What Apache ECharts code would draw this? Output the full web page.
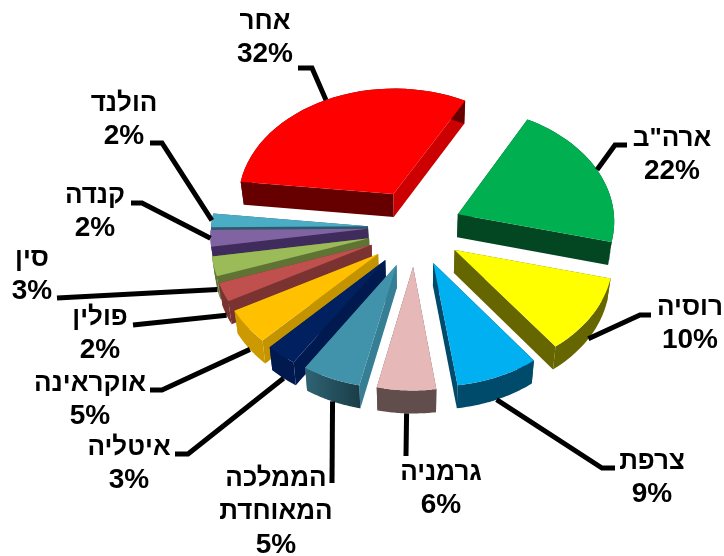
<!DOCTYPE html>
<html>
<head>
<meta charset="utf-8">
<script src="https://cdn.jsdelivr.net/npm/echarts@6/dist/echarts.min.js"></script>
<style>
  html, body { margin: 0; background: #fff; }
  #chart { width: 724px; height: 556px; }
</style>
</head>
<body>
<div id="chart"></div>
<script>
// clockwise from the USA slice
const countries = ['ארה"ב', 'רוסיה', 'צרפת', 'גרמניה', 'הממלכה\nהמאוחדת', 'איטליה', 'אוקראינה', 'פולין', 'סין', 'קנדה', 'הולנד', 'אחר']
const shares = [22, 10, 9, 6, 5, 3, 5, 2, 3, 2, 2, 32]
// sweep of each slice as it looks in the picture, degrees (the labels are rounded and the view is skewed)
const sweeps = [75.5, 39, 29, 20.5, 20.5, 11, 17.5, 9.5, 10, 8.5, 7, 112]

// styles
const topColors = ['#00b050', '#ffff00', '#00b0f0', '#e6b9b8', '#4093ab', '#002060', '#ffc000', '#c0504d', '#9bbb59', '#8064a2', '#4bacc6', '#ff0000']
const rimColors = ['#034722', '#666600', '#004a6b', '#614e4c', ['#2f6474', '#1a3c48'], '#001a50', '#cc9a00', '#7b3331', '#5e7334', '#3f2c5c', '#2b5a6c', '#660000']
const cutFromColors = ['#034722', '#666600', '#004a6b', '#614e4c', '#357e93', '#001a50', '#c49300', '#7b3331', '#5e7334', '#3f2c5c', '#2b5a6c', '#660000']
const cutToColors = ['#034722', '#666600', '#004a6b', '#614e4c', '#357e93', '#001a50', '#c49300', '#7b3331', '#5e7334', '#3f2c5c', '#2b5a6c', '#cc0000']

// layout
const explode = [0.3, 0.3, 0.3, 0.3, 0.3, 0.3, 0.3, 0.3, 0.3, 0.3, 0.3, 0.33]
const sliceNudges = [[0, -3], [0, 0], [0, 0], [0, 1], [0, 2], [0, 2], [1, 2], [0, 0], [0, -1], [0, -5], [0, -3], [2, -4]]
const labelCentres = [[672, 155], [690, 324], [652, 478], [441, 489], [276, 512], [129, 464], [90, 400], [100, 334], [32, 275], [95, 212], [124, 120], [265, 38]]
const leaderBends = [
  [[615, 145], [627, 145]],
  [[640, 315], [651, 315]],
  [[602, 468], [615, 468]],
  [[406, 456]],
  [[332, 483]],
  [[188, 454], [175, 454]],
  [[162, 390], [150, 390]],
  [[133, 325]],
  [[57, 298]],
  [[142, 203], [131, 203]],
  [[162, 143], [150, 143]],
  [[312, 68], [298, 68]]
]
const leaderOnRim = [0, 1, 1, 1, 1, 1, 1, 1, 1, 0, 0, 0]

const startDeg = 28.5
const centreX = 415
const centreY = 231
const scaleX = 157
const scaleY = 114
const perspective = 0.05
const depth = 23
const floorShrink = 0.982

const toRad = d => d * Math.PI / 180

const sliceAngles = sweeps.map((s, i) => {
  const from = startDeg + sweeps.slice(0, i).reduce((a, b) => a + b, 0)
  return {from, to: from + s, mid: from + s / 2}
})

const project = (i, deg, r) => {
  const mid = toRad(sliceAngles[i].mid)
  const e = explode[i]
  const u = e * Math.sin(mid) + r * Math.sin(toRad(deg))
  const v = -e * Math.cos(mid) - r * Math.cos(toRad(deg))
  const w = 1 - perspective * v
  return [centreX + sliceNudges[i][0] + scaleX * u / w, centreY + sliceNudges[i][1] + scaleY * v / w]
}

// the underside sits a bit further from the viewer, so it narrows towards the centre
const drop = ([x, y]) => [centreX + (x - centreX) * floorShrink, y + depth]

const arcPoints = i => {
  const {from, to} = sliceAngles[i]
  const pts = []
  for (let k = 0; k <= 32; k++) pts.push(project(i, from + (to - from) * k / 32, 1))
  return pts
}

const toFill = c => Array.isArray(c)
  ? new echarts.graphic.LinearGradient(0, 0, 1, 0, [{offset: 0, color: c[0]}, {offset: 1, color: c[1]}])
  : c

const labelText = (name, value) => {
  const nameLines = name.split('\n').map(line => `{name|${line}}`)
  return [...nameLines, `{pct|${value}%}`].join('\n')
}

const renderSlice = (params, api) => {
  const i = params.dataIndex
  const {mid} = sliceAngles[i]
  const apex = project(i, 0, 0)
  const arc = arcPoints(i)
  const first = arc[0]
  const last = arc[arc.length - 1]
  // slices nearer the viewer paint later
  const order = Math.round((1 - Math.cos(toRad(mid))) * 100) * 10

  const poly = (points, fill, z) => ({
    type: 'polygon',
    z2: order + z,
    shape: {points},
    style: {fill: toFill(fill)}
  })

  const anchor = project(i, mid, 1)
  const start = leaderOnRim[i] ? drop(anchor) : anchor
  const leaderPts = [start, ...leaderBends[i]]
  const font = {fontFamily: '"Liberation Sans", Arial, sans-serif', fontWeight: 'bold', lineHeight: 33, fill: '#000'}

  return {
    type: 'group',
    children: [
      poly([apex, first, drop(first), drop(apex)], cutFromColors[i], 1),
      poly([apex, last, drop(last), drop(apex)], cutToColors[i], 2),
      poly([...arc, ...arc.map(drop).reverse()], rimColors[i], 3),
      poly([apex, ...arc], topColors[i], 4),
      {
        type: 'polyline',
        z2: 5000,
        shape: {points: leaderPts},
        style: {stroke: '#000', lineWidth: 5, fill: null, lineJoin: 'miter'}
      },
      {
        type: 'text',
        z2: 5001,
        x: labelCentres[i][0],
        y: labelCentres[i][1],
        style: {
          text: labelText(countries[i], api.value(0)),
          align: 'center',
          verticalAlign: 'middle',
          rich: {
            name: {...font, fontSize: 26},
            pct: {...font, fontSize: 28}
          }
        }
      }
    ]
  }
}

const chart = echarts.init(document.getElementById('chart'), null, {renderer: 'canvas'})
chart.setOption({
  animation: false,
  backgroundColor: '#fff',
  series: [{
    type: 'custom',
    coordinateSystem: 'none',
    clip: false,
    silent: true,
    data: shares.map(v => [v]),
    renderItem: renderSlice
  }]
})
</script>
</body>
</html>
